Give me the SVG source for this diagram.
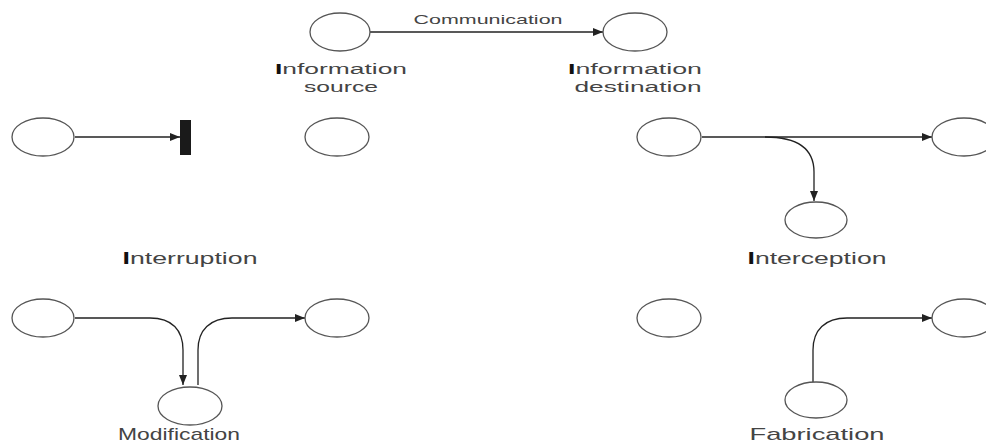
<svg xmlns="http://www.w3.org/2000/svg" width="986" height="448" viewBox="0 0 986 448">
  <style>
    .node { fill: #fff; stroke: #555; stroke-width: 1.3; }
    .edge { fill: none; stroke: #222; stroke-width: 1.3; }
    .lbl { font-family: "Liberation Sans", Arial, sans-serif; font-size: 17px; fill: #444; text-anchor: middle; }
    .two { font-size: 15.5px; }
    .cap { fill: #111; font-weight: bold; }
    .small { font-size: 13px; }
  </style>
  <defs>
    <marker id="arrow" viewBox="0 0 10 8" refX="10" refY="4" markerWidth="11" markerHeight="8" markerUnits="userSpaceOnUse" orient="auto">
      <path d="M0,0 L10,4 L0,8 Z" fill="#222"/>
    </marker>
  </defs>
  <rect width="986" height="448" fill="#fff"/>

  <!-- connectors -->
  <g id="connectors">
    <path class="edge" d="M370,32 L603,32" marker-end="url(#arrow)"/>
    <path class="edge" d="M75,137 L180,137" marker-end="url(#arrow)"/>
    <path class="edge" d="M702,137 L932,137" marker-end="url(#arrow)"/>
    <path class="edge" d="M765,137 C800,137 814,150 814,172 L814,201" marker-end="url(#arrow)"/>
    <path class="edge" d="M75,318 L150,318 C172,318 183,330 183,350 L183,385" marker-end="url(#arrow)"/>
    <path class="edge" d="M198,385 L198,350 C198,330 210,318 232,318 L305,318" marker-end="url(#arrow)"/>
    <path class="edge" d="M813,382 L813,350 C813,330 825,318 847,318 L932,318" marker-end="url(#arrow)"/>
  </g>

  <!-- blocking bar for interruption -->
  <rect id="block" x="180" y="120" width="11" height="35" fill="#1a1a1a"/>

  <g id="info-source">
    <ellipse class="node" cx="340" cy="32" rx="30" ry="19"/>
    <text class="lbl two" x="341" y="74" textLength="132" lengthAdjust="spacingAndGlyphs"><tspan class="cap">I</tspan>nformation</text>
    <text class="lbl two" x="341" y="92" textLength="74" lengthAdjust="spacingAndGlyphs">source</text>
  </g>
  <g id="info-destination">
    <ellipse class="node" cx="635" cy="32" rx="32" ry="19"/>
    <text class="lbl two" x="635" y="74" textLength="134" lengthAdjust="spacingAndGlyphs"><tspan class="cap">I</tspan>nformation</text>
    <text class="lbl two" x="638" y="92" textLength="127" lengthAdjust="spacingAndGlyphs">destination</text>
  </g>
  <text id="communication" class="lbl small" x="488" y="24" textLength="149" lengthAdjust="spacingAndGlyphs">Communication</text>

  <!-- interruption -->
  <g id="intr-src"><ellipse class="node" cx="43" cy="137" rx="31" ry="19"/></g>
  <g id="intr-dst"><ellipse class="node" cx="337" cy="137" rx="32" ry="19"/></g>
  <text id="interruption" class="lbl" x="190" y="264" textLength="135" lengthAdjust="spacingAndGlyphs"><tspan class="cap">I</tspan>nterruption</text>

  <!-- interception -->
  <g id="intc-src"><ellipse class="node" cx="669" cy="137" rx="32" ry="19"/></g>
  <g id="intc-dst"><ellipse class="node" cx="964" cy="137" rx="32" ry="19"/></g>
  <g id="intc-eve"><ellipse class="node" cx="816" cy="220" rx="31" ry="18"/></g>
  <text id="interception" class="lbl" x="817" y="264" textLength="139" lengthAdjust="spacingAndGlyphs"><tspan class="cap">I</tspan>nterception</text>

  <!-- modification -->
  <g id="mod-src"><ellipse class="node" cx="43" cy="318" rx="31" ry="19"/></g>
  <g id="mod-dst"><ellipse class="node" cx="337" cy="318" rx="32" ry="19"/></g>
  <g id="mod-mid"><ellipse class="node" cx="190" cy="406" rx="32" ry="19"/></g>
  <text id="modification" class="lbl" x="179" y="440" textLength="122" lengthAdjust="spacingAndGlyphs">Modification</text>

  <!-- fabrication -->
  <g id="fab-src"><ellipse class="node" cx="669" cy="318" rx="32" ry="19"/></g>
  <g id="fab-dst"><ellipse class="node" cx="964" cy="318" rx="32" ry="19"/></g>
  <g id="fab-mid"><ellipse class="node" cx="816" cy="400" rx="31" ry="18"/></g>
  <text id="fabrication" class="lbl" x="817" y="440" textLength="135" lengthAdjust="spacingAndGlyphs">Fabrication</text>
</svg>
